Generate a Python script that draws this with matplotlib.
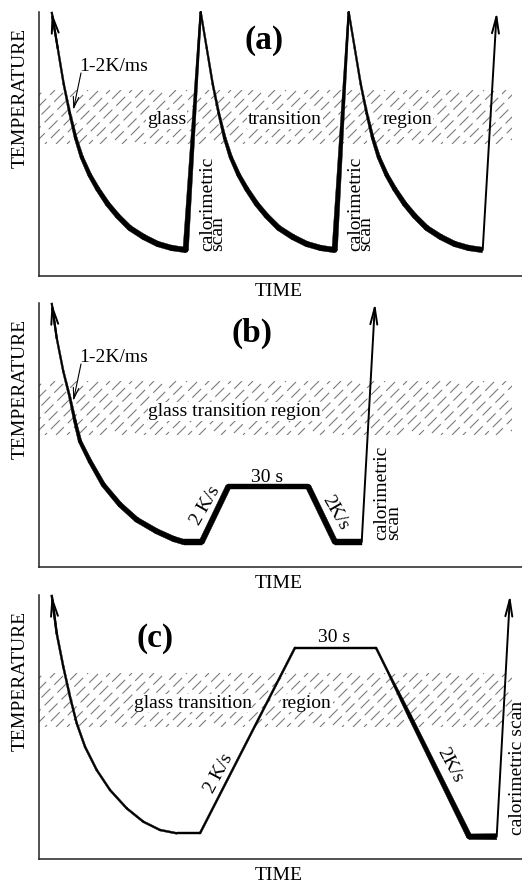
import numpy as np
import matplotlib
matplotlib.use("Agg")
from matplotlib import pyplot as plt
from matplotlib.collections import LineCollection, PolyCollection
from matplotlib.patches import Circle, Rectangle

plt.rcParams["font.family"] = ["Liberation Serif", "DejaVu Serif"]
plt.rcParams["lines.scale_dashes"] = False

txt_sz = 14
tag_sz = 24

# every frame is 483 x 264 px and drawn in pixel units (time, temperature)
frame_w, frame_h = 483, 264
band_lo, band_hi, band_right = 132, 186, 473   # glass transition region

# (a) fast cooling, repeated after each calorimetric scan
a_cool_dt = [0, 6, 12, 18, 24, 30, 38, 46, 56, 66, 78, 92, 106, 120, 134]
a_cool_T = [264, 228, 192, 163, 138, 119, 101, 87, 72, 60, 48, 39, 32, 28, 26]
a_cool_w = [1.8, 1.8, 1.9, 2.3, 3.0, 3.6, 4.1, 4.5, 4.9, 5.1, 5.3, 5.5, 5.5, 5.5, 5.5]
a_starts = [12.7, 161.7, 309.7]
a_scan_end = (457.7, 264)

# (b) fast cooling, then a 30 s anneal below the glass transition
b_cool_dt = [0, 5, 11.6, 18.3, 23.3, 28.3, 38.3, 51.6, 68.3, 85, 105, 122, 132]
b_cool_T = [264, 229, 195.7, 169, 145.7, 125.7, 105.7, 82.3, 62.3, 47.3, 35.7, 28, 25]
b_cool_w = [1.8, 1.8, 1.9, 2.3, 3.0, 3.6, 4.1, 4.5, 4.9, 5.1, 5.3, 5.5, 5.5]
b_start = 12.7
b_hold_t = [162.7, 189.3, 269.3, 296, 322.7]
b_hold_T = [25, 80.3, 80.3, 25, 25]
b_scan_end = (336, 264)

# (c) fast cooling, then a 30 s anneal above the glass transition
c_cool_dt = [0, 5, 11.6, 18.3, 25, 33.3, 45, 58.3, 75, 91.6, 108.3, 125]
c_cool_T = [264, 225.7, 192.3, 162.3, 135.7, 112.3, 89, 69, 50.7, 37.3, 29, 25.7]
c_start = 12.7
c_hold_t = [161, 256, 337, 349, 371, 430.3, 457.7]
c_hold_T = [25.7, 211.3, 211.3, 187, 142.4, 22.3, 22.3]
c_hold_w = [2.0, 2.0, 2.0, 2.0, 4.0, 5.5, 6.0]
c_scan_end = (471, 264)

white_box = dict(facecolor="white", edgecolor="none", pad=0.6)
# dash phase of consecutive hatch lines, so the breaks do not line up
hatch_phase = [0, 5, 2, 9, 4, 11, 7, 1, 6]


def stroke(ax, t, T, w):
    """Polyline whose width (px) changes from point to point."""
    t = np.asarray(t, float)
    T = np.asarray(T, float)
    w = np.asarray(w, float)
    polys = []
    for i in range(len(t) - 1):
        dx, dy = t[i + 1] - t[i], T[i + 1] - T[i]
        L = np.hypot(dx, dy)
        nx, ny = -dy / L, dx / L
        h0, h1 = w[i] / 2, w[i + 1] / 2
        polys.append([(t[i] + nx * h0, T[i] + ny * h0),
                      (t[i + 1] + nx * h1, T[i + 1] + ny * h1),
                      (t[i + 1] - nx * h1, T[i + 1] - ny * h1),
                      (t[i] - nx * h0, T[i] - ny * h0)])
    pc = PolyCollection(polys, facecolors="k", edgecolors="k", linewidths=0.3,
                        zorder=3)
    pc.set_clip_on(False)
    ax.add_collection(pc)
    for x, y, ww in zip(t[1:-1], T[1:-1], w[1:-1]):
        ax.add_patch(Circle((x, y), ww / 2, color="k", lw=0, clip_on=False,
                            zorder=3))


def arrow(ax, p_from, p_to, lw=1.4, head="->,head_length=1.2,head_width=0.25"):
    ax.annotate("", xy=p_to, xytext=p_from, annotation_clip=False,
                arrowprops=dict(arrowstyle=head, lw=lw, color="k",
                                shrinkA=0, shrinkB=0), zorder=4)


def hatch_band(ax):
    offs = np.arange(-60, band_right + 10, 11)
    segs = [[(o, band_lo), (o + band_hi - band_lo, band_hi)] for o in offs]
    styles = [(hatch_phase[i % len(hatch_phase)], (9, 4))
              for i in range(len(offs))]
    lc = LineCollection(segs, colors="#7c7c7c", linewidths=0.8,
                        linestyles=styles, zorder=1)
    ax.add_collection(lc)
    lc.set_clip_path(Rectangle((0, band_lo), band_right, band_hi - band_lo,
                               transform=ax.transData))


def frame(fig, bottom_px):
    ax = fig.add_axes([39 / 522, (882 - bottom_px) / 882,
                       frame_w / 522, frame_h / 882])
    ax.set_xlim(0, frame_w)
    ax.set_ylim(0, frame_h)
    for s in ("top", "right"):
        ax.spines[s].set_visible(False)
    for s in ("left", "bottom"):
        ax.spines[s].set_linewidth(1.1)
        ax.spines[s].set_color("#222222")
    ax.set_xticks([])
    ax.set_yticks([])
    ax.patch.set_alpha(0)
    hatch_band(ax)
    ax.text(240, -20.5, "TIME", fontsize=txt_sz, ha="center", va="baseline")
    ax.text(-14, 178, "TEMPERATURE", fontsize=txt_sz, rotation=90,
            rotation_mode="anchor", ha="center", va="baseline")
    return ax


def band_text(ax, x, y, s):
    ax.text(x, y, s, fontsize=txt_sz, ha="center", va="baseline",
            bbox=white_box, zorder=2)


def rate_label(ax):
    ax.text(40, 205, "1-2K/ms", fontsize=txt_sz, ha="left", va="baseline")
    arrow(ax, (42, 203), (34.3, 166), lw=0.8,
          head="->,head_length=0.8,head_width=0.2")


def scan_label(ax, t1, t2, T0):
    ax.text(t1, T0, "calorimetric", fontsize=txt_sz, rotation=90,
            rotation_mode="anchor", ha="left", va="baseline")
    ax.text(t2, T0, "scan", fontsize=txt_sz, rotation=90,
            rotation_mode="anchor", ha="left", va="baseline")


fig = plt.figure(figsize=(5.22, 8.82), dpi=100)

# ---- (a)
ax = frame(fig, 276)
a_t, a_T, a_w = [], [], []
for s in a_starts:
    a_t += [s + d for d in a_cool_dt]
    a_T += a_cool_T
    a_w += a_cool_w
stroke(ax, a_t, a_T, a_w)
# scans between the cooling runs
for s_prev, s_next in zip(a_starts[:-1], a_starts[1:]):
    ax.plot([s_prev + a_cool_dt[-1], s_next], [a_cool_T[-1], a_cool_T[0]],
            color="k", lw=1.4, solid_capstyle="round", clip_on=False, zorder=3)
arrow(ax, (a_starts[-1] + a_cool_dt[-1], a_cool_T[-1]), a_scan_end)
arrow(ax, (a_starts[0] + a_cool_dt[1], a_cool_T[1]),
      (a_starts[0], a_cool_T[0]))
ax.text(225, 235, "(a)", fontsize=tag_sz, fontweight="bold",
        ha="center", va="center")
rate_label(ax)
for x, word in zip([127.3, 246, 368.7], ["glass", "transition", "region"]):
    band_text(ax, x, 152, word)
scan_label(ax, 173, 183.5, 25)
scan_label(ax, 321, 331.5, 25)

# ---- (b)
ax = frame(fig, 567)
b_t = [b_start + d for d in b_cool_dt] + b_hold_t
b_T = b_cool_T + b_hold_T
b_w = b_cool_w + [5.5] * len(b_hold_t)
stroke(ax, b_t, b_T, b_w)
arrow(ax, (b_hold_t[-1], b_hold_T[-1]), b_scan_end)
arrow(ax, (b_start + b_cool_dt[1], b_cool_T[1]), (b_start, b_cool_T[0]))
ax.text(213, 234, "(b)", fontsize=tag_sz, fontweight="bold",
        ha="center", va="center")
rate_label(ax)
band_text(ax, 195.7, 151, "glass transition region")
ax.text(228.3, 85.3, "30 s", fontsize=txt_sz, ha="center", va="baseline")
ax.text(166.8, 61.2, "2 K/s", fontsize=txt_sz, rotation=60,
        rotation_mode="anchor", ha="center", va="center")
ax.text(296, 54.5, "2K/s", fontsize=txt_sz, rotation=-60,
        rotation_mode="anchor", ha="center", va="center")
scan_label(ax, 347.7, 359.3, 27)

# ---- (c)
ax = frame(fig, 859)
c_t = [c_start + d for d in c_cool_dt] + c_hold_t
c_T = c_cool_T + c_hold_T
c_w = [2.0] * len(c_cool_dt) + c_hold_w
stroke(ax, c_t, c_T, c_w)
arrow(ax, (c_hold_t[-1], c_hold_T[-1]), c_scan_end)
arrow(ax, (c_start + c_cool_dt[1], c_cool_T[1]), (c_start, c_cool_T[0]))
ax.text(115.7, 221, "(c)", fontsize=tag_sz, fontweight="bold",
        ha="center", va="center")
band_text(ax, 153.5, 151.3, "glass transition")
band_text(ax, 268, 151.3, "region")
ax.text(295.5, 217.3, "30 s", fontsize=txt_sz, ha="center", va="baseline")
ax.text(180, 86, "2 K/s", fontsize=txt_sz, rotation=62,
        rotation_mode="anchor", ha="center", va="center")
ax.text(411, 94, "2K/s", fontsize=txt_sz, rotation=-62,
        rotation_mode="anchor", ha="center", va="center")
ax.text(483.5, 24, "calorimetric scan", fontsize=txt_sz, rotation=90,
        rotation_mode="anchor", ha="left", va="baseline")

fig.savefig("out.png", dpi=100)
